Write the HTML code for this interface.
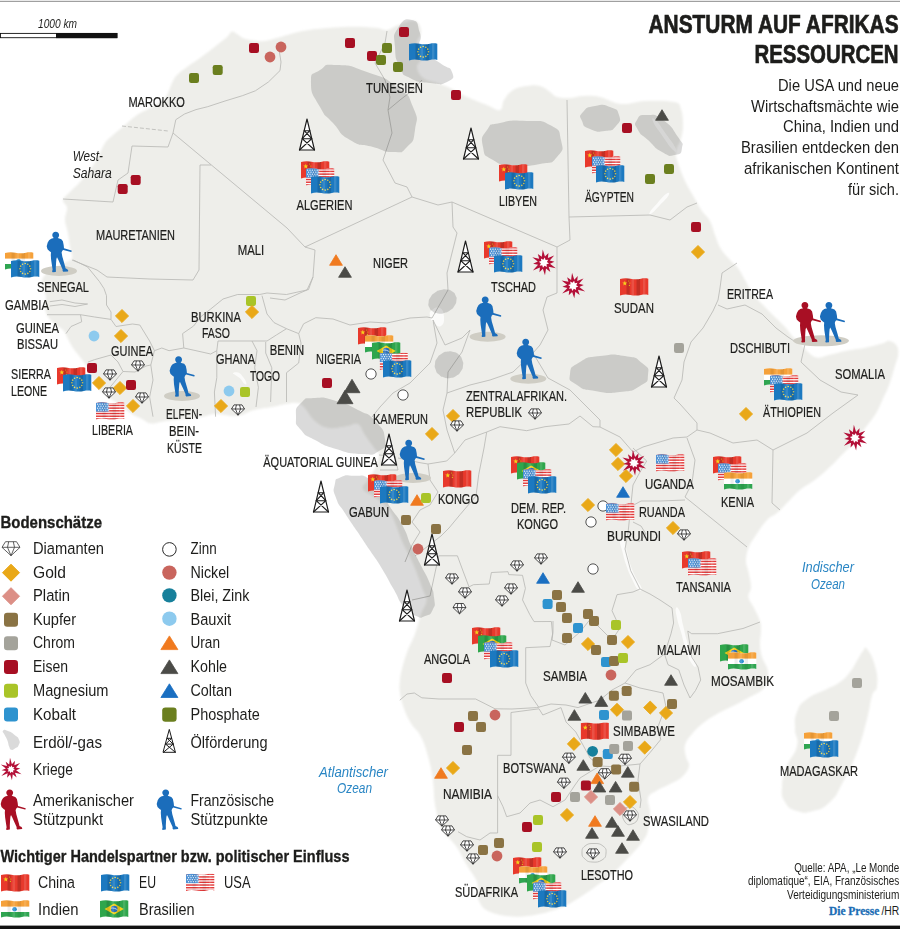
<!DOCTYPE html>
<html lang="de"><head><meta charset="utf-8"><title>Ansturm auf Afrikas Ressourcen</title>
<style>
html,body{margin:0;padding:0;background:#fff;}
body{width:900px;height:929px;overflow:hidden;}
svg{display:block;}
text{font-family:"Liberation Sans",sans-serif;fill:#1d1d1b;}
.c{font-size:15px;stroke:#1d1d1b;stroke-width:0.22px;}
.ci{font-size:15px;font-style:italic;}
.sc{font-size:12.2px;font-style:italic;}
.oc{font-size:15px;font-style:italic;fill:#2a86c4;}
.lg{font-size:16.3px;}
.h{font-size:17px;font-weight:bold;stroke:#1d1d1b;stroke-width:0.35px;}
.t{font-size:25.6px;font-weight:bold;stroke:#1d1d1b;stroke-width:0.7px;}
.p{font-size:17px;}
.q{font-size:13px;}
</style></head><body>
<svg width="900" height="929" viewBox="0 0 900 929">
<defs>
<filter id="soft" x="-5%" y="-5%" width="110%" height="110%"><feGaussianBlur stdDeviation="0.9"/></filter>


<clipPath id="fw"><path d="M0 1.1C3.5 0.1 7 0.1 10.5 0.8C14 1.5 17.5 1.5 21 0.7C23.5 0.2 26 0.2 28.3 0.7L28.3 16.9C26 16.4 23.5 16.4 21 17C17.5 17.8 14 17.8 10.5 17.1C7 16.4 3.5 16.4 0 17.5Z"/></clipPath>
<g id="gem" fill="#fff" stroke="#2b2b2b" stroke-width="0.85" stroke-linejoin="round" transform="translate(0 1)"><path d="M-4 -5.1H4L6.5 -1L0 5.2L-6.5 -1Z"/><path d="M-6.5 -1H6.5M-1.6 -5.1L-2.5 -1L0 5.2L2.5 -1L1.6 -5.1" fill="none"/></g>
<g id="gemL" fill="#fff" stroke="#444" stroke-width="0.85" stroke-linejoin="round"><path d="M-5.5 -7H5.5L9 -1.4L0 7L-9 -1.4Z"/><path d="M-9 -1.4H9M-2.3 -7L-3.5 -1.4L0 7L3.5 -1.4L2.3 -7" fill="none"/></g>
<g id="oil" stroke="#1b1b1b" stroke-width="1.15" stroke-linejoin="round" stroke-linecap="round"><path d="M0 -31L7.5 0H-7.5Z" fill="#fff"/><path d="M-7.5 0L4.8 -11.3M7.5 0L-4.8 -11.3M-4.8 -11.3H4.8M-4.8 -11.3L2.8 -19.3M4.8 -11.3L-2.8 -19.3M-2.8 -19.3H2.8" fill="none"/></g>
<g id="oilL" stroke="#1b1b1b" stroke-width="1" stroke-linejoin="round" stroke-linecap="round"><path d="M0 -22.5L6 0H-6Z" fill="#fff"/><path d="M-6 0L3.8 -8.2M6 0L-3.8 -8.2M-3.8 -8.2H3.8M-3.8 -8.2L2.2 -14M3.8 -8.2L-2.2 -14M-2.2 -14H2.2" fill="none"/></g>
<g id="war"><path d="M-1.15 -13.15L1.08 -6.11L4.57 -9.81L3.99 -4.75L10.27 -7.19L5.83 -2.12L10.52 -0.92L6.11 1.08L11.96 5.58L4.75 3.99L6.44 9.19L2.12 5.83L1.09 12.49L-1.08 6.11L-4.46 9.57L-3.99 4.75L-11.03 7.72L-5.83 2.12L-10.78 0.94L-6.11 -1.08L-11.60 -5.41L-4.75 -3.99L-6.06 -8.65L-2.12 -5.83Z" fill="#b30f37"/><path d="M0.90 -5.12L1.67 -2.61L4.26 -2.98L3.03 -0.67L5.12 0.90L2.61 1.67L2.98 4.26L0.67 3.03L-0.90 5.12L-1.67 2.61L-4.26 2.98L-3.03 0.67L-5.12 -0.90L-2.61 -1.67L-2.98 -4.26L-0.67 -3.03Z" fill="#fff"/></g>
<g id="warL"><path d="M-1.01 -11.56L0.90 -5.12L4.02 -8.62L3.34 -3.98L9.03 -6.32L4.89 -1.78L9.24 -0.81L5.12 0.90L10.51 4.90L3.98 3.34L5.66 8.08L1.78 4.89L0.96 10.98L-0.90 5.12L-3.92 8.41L-3.34 3.98L-9.69 6.79L-4.89 1.78L-9.48 0.83L-5.12 -0.90L-10.20 -4.76L-3.98 -3.34L-5.32 -7.60L-1.78 -4.89Z" fill="#b30f37"/><path d="M0.71 -4.04L1.29 -2.02L3.36 -2.35L2.34 -0.52L4.04 0.71L2.02 1.29L2.35 3.36L0.52 2.34L-0.71 4.04L-1.29 2.02L-3.36 2.35L-2.34 0.52L-4.04 -0.71L-2.02 -1.29L-2.35 -3.36L-0.52 -2.34Z" fill="#fff"/></g>
<path id="solb" d="M10 -0.3C12.1 -0.3 13.4 1 13.4 2.9C13.4 4.3 12.8 5.4 12 5.9L12.8 6.3L15.6 7.2L17.2 9.3L18 13.2L18.3 16.3L25.9 18.5L26 19.6L25.3 19.9L17.6 17.9L16.6 18.8L15.9 20.6L16.6 24.6L18.3 30.5L19.3 34L19.8 36.3L21.9 37.4L22.6 38.7L22.3 39.4L17.6 39.8L16.9 39L16.9 37.4L14.6 32.2L12.6 27.8L11.3 25.2L10.7 27L10.4 30.6L10.1 36L10.2 38.6L10.1 39.9L7 40.2L6.4 39.5L6.9 37.6L6.2 33L5.4 27.6L5.1 23L5.3 20.2L3.6 19L1.8 17.2L1 14.2L2 10.6L3.4 8.2L5.4 6.8L8.2 6C7.3 5.4 6.6 4.3 6.6 2.9C6.6 1 7.9 -0.3 10 -0.3Z" fill="#1b6dbb"/>
<path id="solr" d="M10 -0.3C12.1 -0.3 13.4 1 13.4 2.9C13.4 4.3 12.8 5.4 12 5.9L12.8 6.3L15.6 7.2L17.2 9.3L18 13.2L18.3 16.3L25.9 18.5L26 19.6L25.3 19.9L17.6 17.9L16.6 18.8L15.9 20.6L16.6 24.6L18.3 30.5L19.3 34L19.8 36.3L21.9 37.4L22.6 38.7L22.3 39.4L17.6 39.8L16.9 39L16.9 37.4L14.6 32.2L12.6 27.8L11.3 25.2L10.7 27L10.4 30.6L10.1 36L10.2 38.6L10.1 39.9L7 40.2L6.4 39.5L6.9 37.6L6.2 33L5.4 27.6L5.1 23L5.3 20.2L3.6 19L1.8 17.2L1 14.2L2 10.6L3.4 8.2L5.4 6.8L8.2 6C7.3 5.4 6.6 4.3 6.6 2.9C6.6 1 7.9 -0.3 10 -0.3Z" fill="#a80f24"/>
<g id="fcn" clip-path="url(#fw)"><rect width="29" height="19" fill="#e8392c"/><path d="M0.00 -2.60L0.62 -0.85L2.47 -0.80L1.00 0.32L1.53 2.10L0.00 1.05L-1.53 2.10L-1.00 0.32L-2.47 -0.80L-0.62 -0.85Z" transform="translate(4.8 5.4)" fill="#f6d21c"/><circle cx="8.6" cy="3" r="0.6" fill="#f6d21c"/><circle cx="9.8" cy="5" r="0.6" fill="#f6d21c"/><circle cx="9.4" cy="7.4" r="0.6" fill="#f6d21c"/><path d="M6.5 0h3.2v18h-3.2z" fill="#000" opacity="0.16"/><path d="M16.5 0h3.6v18h-3.6z" fill="#000" opacity="0.16"/><path d="M11.5 0h2.6v18h-2.6z" fill="#fff" opacity="0.12"/><path d="M23 0h2.4v18h-2.4z" fill="#fff" opacity="0.12"/></g>
<g id="feu" clip-path="url(#fw)"><rect width="29" height="19" fill="#1c79c0"/><circle cx="19.50" cy="8.80" r="0.8" fill="#f2dc5a"/><circle cx="18.79" cy="11.45" r="0.8" fill="#f2dc5a"/><circle cx="16.85" cy="13.39" r="0.8" fill="#f2dc5a"/><circle cx="14.20" cy="14.10" r="0.8" fill="#f2dc5a"/><circle cx="11.55" cy="13.39" r="0.8" fill="#f2dc5a"/><circle cx="9.61" cy="11.45" r="0.8" fill="#f2dc5a"/><circle cx="8.90" cy="8.80" r="0.8" fill="#f2dc5a"/><circle cx="9.61" cy="6.15" r="0.8" fill="#f2dc5a"/><circle cx="11.55" cy="4.21" r="0.8" fill="#f2dc5a"/><circle cx="14.20" cy="3.50" r="0.8" fill="#f2dc5a"/><circle cx="16.85" cy="4.21" r="0.8" fill="#f2dc5a"/><circle cx="18.79" cy="6.15" r="0.8" fill="#f2dc5a"/><path d="M6.5 0h3.2v18h-3.2z" fill="#000" opacity="0.13"/><path d="M16.5 0h3.6v18h-3.6z" fill="#000" opacity="0.13"/><path d="M11.5 0h2.6v18h-2.6z" fill="#fff" opacity="0.12"/><path d="M23 0h2.4v18h-2.4z" fill="#fff" opacity="0.12"/></g>
<g id="fus" clip-path="url(#fw)"><rect width="29" height="19" fill="#fff"/><rect x="0" y="0.00" width="29" height="1.45" fill="#e23a3a"/><rect x="0" y="2.70" width="29" height="1.45" fill="#e23a3a"/><rect x="0" y="5.40" width="29" height="1.45" fill="#e23a3a"/><rect x="0" y="8.10" width="29" height="1.45" fill="#e23a3a"/><rect x="0" y="10.80" width="29" height="1.45" fill="#e23a3a"/><rect x="0" y="13.50" width="29" height="1.45" fill="#e23a3a"/><rect x="0" y="16.20" width="29" height="1.45" fill="#e23a3a"/><rect x="0" y="0" width="12.5" height="9.6" fill="#4f93d6"/><circle cx="1.6" cy="2.2" r="0.62" fill="#fff"/><circle cx="4.0" cy="2.2" r="0.62" fill="#fff"/><circle cx="6.4" cy="2.2" r="0.62" fill="#fff"/><circle cx="8.8" cy="2.2" r="0.62" fill="#fff"/><circle cx="11.2" cy="2.2" r="0.62" fill="#fff"/><circle cx="2.6" cy="4.2" r="0.62" fill="#fff"/><circle cx="5.0" cy="4.2" r="0.62" fill="#fff"/><circle cx="7.4" cy="4.2" r="0.62" fill="#fff"/><circle cx="9.8" cy="4.2" r="0.62" fill="#fff"/><circle cx="12.2" cy="4.2" r="0.62" fill="#fff"/><circle cx="1.6" cy="6.2" r="0.62" fill="#fff"/><circle cx="4.0" cy="6.2" r="0.62" fill="#fff"/><circle cx="6.4" cy="6.2" r="0.62" fill="#fff"/><circle cx="8.8" cy="6.2" r="0.62" fill="#fff"/><circle cx="11.2" cy="6.2" r="0.62" fill="#fff"/><circle cx="2.6" cy="8.2" r="0.62" fill="#fff"/><circle cx="5.0" cy="8.2" r="0.62" fill="#fff"/><circle cx="7.4" cy="8.2" r="0.62" fill="#fff"/><circle cx="9.8" cy="8.2" r="0.62" fill="#fff"/><circle cx="12.2" cy="8.2" r="0.62" fill="#fff"/><path d="M6.5 0h3.2v18h-3.2z" fill="#000" opacity="0.06"/><path d="M16.5 0h3.6v18h-3.6z" fill="#000" opacity="0.06"/><path d="M11.5 0h2.6v18h-2.6z" fill="#fff" opacity="0.12"/><path d="M23 0h2.4v18h-2.4z" fill="#fff" opacity="0.12"/></g>
<g id="fin" clip-path="url(#fw)"><rect width="29" height="19" fill="#fff"/><rect width="29" height="6.6" fill="#f5a13a"/><rect y="12" width="29" height="7" fill="#2fa551"/><circle cx="13.6" cy="9.2" r="2.3" fill="#2e8fd0"/><path d="M6.5 0h3.2v18h-3.2z" fill="#000" opacity="0.07"/><path d="M16.5 0h3.6v18h-3.6z" fill="#000" opacity="0.07"/><path d="M11.5 0h2.6v18h-2.6z" fill="#fff" opacity="0.12"/><path d="M23 0h2.4v18h-2.4z" fill="#fff" opacity="0.12"/></g>
<g id="fbr" clip-path="url(#fw)"><rect width="29" height="19" fill="#2fa64c"/><path d="M14.2 3.4L23.8 9L14.2 14.6L4.6 9Z" fill="#f6d31d"/><circle cx="14.2" cy="9" r="3.3" fill="#2a6fb7"/><path d="M10.8 8.2C13 7.6 15.8 8.4 17.7 10" stroke="#fff" stroke-width="0.7" fill="none"/><path d="M6.5 0h3.2v18h-3.2z" fill="#000" opacity="0.13"/><path d="M16.5 0h3.6v18h-3.6z" fill="#000" opacity="0.13"/><path d="M11.5 0h2.6v18h-2.6z" fill="#fff" opacity="0.12"/><path d="M23 0h2.4v18h-2.4z" fill="#fff" opacity="0.12"/></g>

</defs>
<rect width="900" height="929" fill="#fff"/>
<rect x="0" y="0.8" width="900" height="1.1" fill="#969696"/>
<rect x="0" y="925.6" width="900" height="3.4" fill="#111"/>
<g filter="url(#soft)">
<path d="M232.0 31.5 C234.0 30.9 234.6 32.6 237.0 34.0 C239.4 35.4 240.6 37.2 244.0 38.5 C247.4 39.8 249.9 40.0 254.0 40.5 C258.1 41.0 259.6 41.5 264.4 41.0 C269.2 40.5 272.0 39.3 277.8 37.8 C283.6 36.3 287.1 34.9 293.3 33.3 C299.5 31.7 301.4 31.1 308.9 30.0 C316.4 28.9 322.1 28.5 331.0 27.8 C339.9 27.1 344.4 26.7 353.3 26.7 C362.2 26.7 368.9 27.1 375.6 27.8 C382.3 28.5 382.7 30.4 387.0 30.0 C391.3 29.6 392.4 27.4 397.0 25.6 C401.6 23.8 405.8 21.5 410.0 21.0 C414.2 20.5 415.8 20.6 418.0 23.0 C420.2 25.4 421.2 29.0 421.0 33.0 C420.8 37.0 416.8 38.2 417.0 43.0 C417.2 47.8 422.0 52.2 422.0 57.0 C422.0 61.8 416.8 62.8 417.0 67.0 C417.2 71.2 419.0 74.8 423.0 78.0 C427.0 81.2 431.6 81.0 437.0 83.0 C442.4 85.0 444.0 85.2 450.0 88.0 C456.0 90.8 459.6 93.6 467.0 97.0 C474.4 100.4 480.4 102.4 487.0 105.0 C493.6 107.6 496.6 111.0 500.0 110.0 C503.4 109.0 501.4 104.0 504.0 100.0 C506.6 96.0 508.4 92.8 513.0 90.0 C517.6 87.2 521.6 86.8 527.0 86.0 C532.4 85.2 535.4 84.8 540.0 86.0 C544.6 87.2 546.6 89.8 550.0 92.0 C553.4 94.2 553.0 95.8 557.0 97.0 C561.0 98.2 564.8 98.2 570.0 98.0 C575.2 97.8 577.0 96.2 583.0 96.0 C589.0 95.8 592.4 95.4 600.0 97.0 C607.6 98.6 612.0 103.2 621.0 104.0 C630.0 104.8 634.4 101.4 645.0 101.0 C655.6 100.6 666.8 100.4 674.0 102.0 C681.2 103.6 679.2 104.4 681.0 109.0 C682.8 113.6 683.0 119.0 683.0 125.0 C683.0 131.0 682.4 133.6 681.0 139.0 C679.6 144.4 676.4 146.6 676.0 152.0 C675.6 157.4 677.0 159.8 679.0 166.0 C681.0 172.2 682.8 176.4 686.0 183.0 C689.2 189.6 691.8 193.4 695.0 199.0 C698.2 204.6 699.0 206.6 702.0 211.0 C705.0 215.4 707.4 216.2 710.0 221.0 C712.6 225.8 712.8 229.4 715.0 235.0 C717.2 240.6 717.8 243.8 721.0 249.0 C724.2 254.2 727.6 257.2 731.0 261.0 C734.4 264.8 735.2 264.2 738.0 268.0 C740.8 271.8 742.0 274.8 745.0 280.0 C748.0 285.2 749.0 288.6 753.0 294.0 C757.0 299.4 760.4 302.2 765.0 307.0 C769.6 311.8 771.8 313.8 776.0 318.0 C780.2 322.2 782.6 324.2 786.0 328.0 C789.4 331.8 790.2 334.2 793.0 337.0 C795.8 339.8 797.4 339.4 800.0 342.0 C802.6 344.6 802.7 346.9 806.0 350.0 C809.3 353.1 811.8 356.5 816.4 357.5 C821.0 358.5 822.8 356.5 828.9 355.1 C835.0 353.7 839.6 352.1 846.7 350.7 C853.8 349.3 857.3 349.4 864.4 348.0 C871.5 346.6 877.2 345.0 882.2 343.6 C887.2 342.2 886.5 340.6 889.3 340.9 C892.1 341.2 894.6 342.6 896.4 345.3 C898.2 348.0 898.5 349.9 898.2 354.2 C897.9 358.5 896.5 360.7 894.7 366.7 C892.9 372.7 891.8 377.7 889.3 384.4 C886.8 391.1 885.0 394.3 882.2 400.4 C879.4 406.5 878.7 409.0 875.1 414.7 C871.5 420.4 868.7 423.2 864.4 428.9 C860.1 434.6 858.1 438.1 853.8 443.1 C849.5 448.1 848.1 448.8 843.1 453.8 C838.1 458.8 834.6 462.8 828.9 468.0 C823.2 473.2 820.5 475.6 814.7 480.0 C808.9 484.4 805.5 485.4 800.0 490.0 C794.5 494.6 791.6 498.4 787.0 503.0 C782.4 507.6 781.0 509.6 777.0 513.0 C773.0 516.4 771.2 515.6 767.0 520.0 C762.8 524.4 759.7 529.4 756.0 535.0 C752.3 540.6 750.5 542.8 748.5 548.0 C746.5 553.2 746.0 556.2 746.0 561.0 C746.0 565.8 747.5 566.8 748.5 572.0 C749.5 577.2 751.0 582.0 751.0 587.0 C751.0 592.0 747.9 592.8 748.5 597.0 C749.1 601.2 751.7 603.2 754.0 608.0 C756.3 612.8 758.6 616.4 760.0 621.0 C761.4 625.6 761.0 626.4 761.0 631.0 C761.0 635.6 759.8 638.8 760.0 644.0 C760.2 649.2 760.4 651.4 762.0 657.0 C763.6 662.6 767.6 665.8 768.0 672.0 C768.4 678.2 768.0 682.8 764.0 688.0 C760.0 693.2 754.2 694.4 748.0 698.0 C741.8 701.6 739.2 702.8 733.0 706.0 C726.8 709.2 723.2 710.4 717.0 714.0 C710.8 717.6 707.0 720.0 702.0 724.0 C697.0 728.0 695.4 729.8 692.0 734.0 C688.6 738.2 686.2 740.4 685.0 745.0 C683.8 749.6 685.2 752.8 686.0 757.0 C686.8 761.2 689.8 762.0 689.0 766.0 C688.2 770.0 685.8 773.4 682.0 777.0 C678.2 780.6 675.2 781.2 670.0 784.0 C664.8 786.8 660.4 788.2 656.0 791.0 C651.6 793.8 649.2 793.8 648.0 798.0 C646.8 802.2 650.0 805.6 650.0 812.0 C650.0 818.4 649.4 824.2 648.0 830.0 C646.6 835.8 646.4 836.0 643.0 841.0 C639.6 846.0 637.0 848.6 631.0 855.0 C625.0 861.4 620.2 866.6 613.0 873.0 C605.8 879.4 602.8 881.4 595.0 887.0 C587.2 892.6 581.0 896.8 574.0 901.0 C567.0 905.2 567.4 905.3 560.0 908.0 C552.6 910.7 546.4 912.8 537.0 914.5 C527.6 916.2 522.6 917.1 513.0 916.5 C503.4 915.9 495.8 914.6 489.0 911.5 C482.2 908.4 481.2 905.3 479.0 901.0 C476.8 896.7 478.6 894.2 478.0 890.0 C477.4 885.8 478.5 885.1 476.2 880.0 C473.9 874.9 470.4 871.3 466.5 864.7 C462.6 858.1 461.1 853.4 456.8 847.2 C452.5 841.0 448.9 838.5 445.2 833.7 C441.5 828.9 440.2 827.3 438.5 823.0 C436.8 818.7 437.3 816.5 436.5 812.0 C435.7 807.5 435.3 807.6 434.5 800.7 C433.7 793.8 434.1 787.2 432.6 777.5 C431.1 767.8 429.3 760.5 426.8 752.0 C424.3 743.5 423.1 740.6 420.0 735.0 C416.9 729.4 414.6 729.0 411.5 724.0 C408.4 719.0 406.8 716.2 404.5 710.0 C402.2 703.8 400.9 699.0 400.0 693.0 C399.1 687.0 399.5 685.2 400.0 680.0 C400.5 674.8 401.0 672.8 402.5 667.0 C404.0 661.2 405.0 657.6 407.5 651.0 C410.0 644.4 412.3 641.4 415.0 634.0 C417.7 626.6 418.7 620.6 421.0 614.0 C423.3 607.4 426.2 605.6 426.6 600.8 C427.0 596.0 425.1 596.0 423.0 590.0 C420.9 584.0 418.8 577.7 416.0 570.7 C413.2 563.7 411.8 560.9 409.0 555.0 C406.2 549.1 404.6 547.0 402.0 541.0 C399.4 535.0 398.6 531.2 396.0 525.0 C393.4 518.8 393.0 515.4 389.0 510.0 C385.0 504.6 381.2 502.2 376.0 498.0 C370.8 493.8 364.6 492.6 363.0 489.0 C361.4 485.4 365.6 484.2 368.0 480.0 C370.4 475.8 372.8 473.0 375.0 468.0 C377.2 463.0 379.0 458.8 379.0 455.0 C379.0 451.2 377.8 453.0 375.0 449.0 C372.2 445.0 368.4 440.0 365.0 435.0 C361.6 430.0 361.6 425.8 358.0 424.0 C354.4 422.2 352.8 425.2 347.0 426.0 C341.2 426.8 335.4 429.0 329.0 428.0 C322.6 427.0 320.0 425.2 315.0 421.0 C310.0 416.8 307.6 410.6 304.0 407.0 C300.4 403.4 300.6 403.6 297.0 403.0 C293.4 402.4 291.0 403.2 286.0 404.0 C281.0 404.8 278.4 405.8 272.0 407.0 C265.6 408.2 261.0 408.2 254.0 410.0 C247.0 411.8 244.8 415.2 237.0 416.0 C229.2 416.8 222.2 413.8 215.0 414.0 C207.8 414.2 210.8 415.6 201.0 417.0 C191.2 418.4 175.9 419.7 166.0 421.0 C156.1 422.3 156.3 423.9 151.5 423.5 C146.7 423.1 145.9 420.9 142.0 419.0 C138.1 417.1 136.4 416.8 132.0 414.0 C127.6 411.2 124.8 408.4 120.0 405.0 C115.2 401.6 112.4 400.4 108.0 397.0 C103.6 393.6 101.2 391.8 98.0 388.0 C94.8 384.2 94.2 382.2 92.0 378.0 C89.8 373.8 89.4 371.2 87.0 367.0 C84.6 362.8 82.8 360.8 80.0 357.0 C77.2 353.2 75.5 351.8 73.0 348.0 C70.5 344.2 69.3 341.4 67.5 338.0 C65.7 334.6 65.7 333.2 64.0 331.0 C62.3 328.8 61.4 328.9 59.0 327.0 C56.6 325.1 54.5 324.1 52.0 321.5 C49.5 318.9 47.9 317.3 46.5 314.0 C45.1 310.7 45.1 308.2 45.0 305.0 C44.9 301.8 46.2 301.0 46.0 298.0 C45.8 295.0 44.8 293.2 44.0 290.0 C43.2 286.8 41.8 285.0 42.0 282.0 C42.2 279.0 42.4 277.8 45.0 275.0 C47.6 272.2 50.8 270.6 55.0 268.0 C59.2 265.4 62.6 264.0 66.0 262.0 C69.4 260.0 71.2 261.0 72.0 258.0 C72.8 255.0 70.8 252.0 70.0 247.0 C69.2 242.0 69.0 238.4 68.0 233.0 C67.0 227.6 65.2 225.0 65.0 220.0 C64.8 215.0 67.4 212.0 67.0 208.0 C66.6 204.0 62.4 203.2 63.0 200.0 C63.6 196.8 66.6 195.6 70.0 192.0 C73.4 188.4 76.0 186.4 80.0 182.0 C84.0 177.6 86.4 175.0 90.0 170.0 C93.6 165.0 95.0 162.4 98.0 157.0 C101.0 151.6 102.0 147.4 105.0 143.0 C108.0 138.6 109.0 138.6 113.0 135.0 C117.0 131.4 120.2 129.0 125.0 125.0 C129.8 121.0 132.0 118.4 137.0 115.0 C142.0 111.6 144.8 111.0 150.0 108.0 C155.2 105.0 159.4 103.0 163.0 100.0 C166.6 97.0 166.2 96.4 168.0 93.0 C169.8 89.6 170.2 86.6 172.0 83.0 C173.8 79.4 174.0 78.2 177.0 75.0 C180.0 71.8 182.4 70.4 187.0 67.0 C191.6 63.6 194.0 62.4 200.0 58.0 C206.0 53.6 211.6 49.2 217.0 45.0 C222.4 40.8 224.0 39.7 227.0 37.0 C230.0 34.3 230.0 32.1 232.0 31.5Z" fill="#eeeeea"/>
<path d="M867.0 649.0 C870.2 653.0 872.3 656.1 875.0 666.0 C877.7 675.9 877.8 678.0 877.0 686.0 C876.2 694.0 874.7 687.2 872.0 696.0 C869.3 704.8 871.0 704.1 867.0 719.0 C863.0 733.9 863.4 735.2 857.0 752.0 C850.6 768.8 850.2 768.7 843.0 782.0 C835.8 795.3 838.0 794.3 830.0 802.0 C822.0 809.7 821.8 808.6 813.0 811.0 C804.2 813.4 804.5 813.4 797.0 811.0 C789.5 808.6 789.0 808.7 785.0 802.0 C781.0 795.3 781.5 795.6 782.0 786.0 C782.5 776.4 783.0 776.7 787.0 766.0 C791.0 755.3 794.9 755.9 797.0 746.0 C799.1 736.1 795.0 738.1 795.0 729.0 C795.0 719.9 793.8 720.0 797.0 712.0 C800.2 704.0 799.0 705.1 807.0 699.0 C815.0 692.9 818.2 693.5 827.0 689.0 C835.8 684.5 833.9 686.5 840.0 682.0 C846.1 677.5 845.2 678.1 850.0 672.0 C854.8 665.9 854.5 664.6 858.0 659.0 C861.5 653.4 860.6 653.7 863.0 651.0 C865.4 648.3 863.8 645.0 867.0 649.0Z" fill="#eeeeea"/>
</g>
<path d="M676.0 608.0 C676.8 606.4 678.1 607.5 680.0 612.0 C681.9 616.5 681.1 617.3 683.0 625.0 C684.9 632.7 684.6 633.0 687.0 641.0 C689.4 649.0 689.6 648.6 692.0 655.0 C694.4 661.4 696.0 662.6 696.0 665.0 C696.0 667.4 694.7 668.0 692.0 664.0 C689.3 660.0 688.9 658.5 686.0 650.0 C683.1 641.5 683.4 640.5 681.0 632.0 C678.6 623.5 678.3 624.4 677.0 618.0 C675.7 611.6 675.2 609.6 676.0 608.0Z" fill="#fbfbfa"/>
<path d="M620.0 541.0 C620.4 538.1 622.1 538.1 624.0 541.0 C625.9 543.9 625.3 545.6 627.0 552.0 C628.7 558.4 628.1 558.1 630.5 565.0 C632.9 571.9 633.1 571.9 636.0 578.0 C638.9 584.1 641.0 584.9 641.5 588.0 C642.0 591.1 640.5 591.9 638.0 589.5 C635.5 587.1 635.1 585.3 632.0 579.0 C628.9 572.7 629.0 573.2 626.5 566.0 C624.0 558.8 624.2 558.7 622.5 552.0 C620.8 545.3 619.6 543.9 620.0 541.0Z" fill="#fbfbfa"/>
<path d="M653.0 121.5 C651.3 117.4 652.5 117.2 656.0 120.5 C659.5 123.8 660.8 126.7 666.0 134.0 C671.2 141.3 673.6 143.7 675.5 148.0 C677.4 152.3 676.5 153.2 673.0 150.0 C669.5 146.8 667.8 143.6 662.5 136.0 C657.2 128.4 654.7 125.6 653.0 121.5Z" fill="#fbfbfa"/>
<path d="M666.0 194.0 C668.9 192.0 670.1 192.6 668.5 195.5 C666.9 198.4 664.5 200.2 660.0 205.0 C655.5 209.8 654.2 211.6 651.5 213.5 C648.8 215.4 648.4 214.8 650.0 212.0 C651.6 209.2 653.2 207.8 657.5 203.0 C661.8 198.2 663.1 196.0 666.0 194.0Z" fill="#fbfbfa"/>
<path d="M233.0 373.2 C233.5 372.5 235.3 371.6 238.0 372.6 C240.7 373.6 240.8 374.2 243.0 377.0 C245.2 379.8 246.0 381.2 246.3 383.0 C246.6 384.8 246.0 385.1 244.3 383.8 C242.6 382.5 242.2 380.5 240.0 378.3 C237.8 376.1 237.9 376.8 236.0 375.4 C234.1 374.0 232.5 373.9 233.0 373.2Z" fill="#fbfbfa"/>
<path d="M432.0 310.0 C434.7 307.9 436.8 306.1 440.0 308.0 C443.2 309.9 443.7 312.2 444.0 317.0 C444.3 321.8 443.7 324.4 441.0 326.0 C438.3 327.6 436.9 325.7 434.0 323.0 C431.1 320.3 430.5 319.5 430.0 316.0 C429.5 312.5 429.3 312.1 432.0 310.0Z" fill="#fbfbfa"/>
<g fill="none" stroke="#b9b9b6" stroke-width="0.85" stroke-linejoin="round">
<polyline points="278.0,43.0 281.0,62.0 280.0,70.6 268.4,82.0 255.4,90.8 242.4,95.7 225.0,101.0 207.7,106.7 196.0,109.6 184.5,114.0 175.8,119.7 173.0,133.0"/>
<polyline points="173.0,133.0 168.0,147.0 132.0,146.0 128.0,173.0 118.0,180.0 113.0,202.0 63.0,199.0"/>
<polyline points="173.0,133.0 287.0,228.0 305.0,247.0"/>
<polyline points="211.0,165.0 200.0,165.0 199.0,270.0 193.0,280.0 150.0,279.0 107.0,277.0 97.0,270.0 72.0,260.0"/>
<polyline points="305.0,247.0 412.0,197.0"/>
<polyline points="412.0,197.0 407.0,187.0 395.0,183.0 383.0,160.0 392.0,133.0 388.0,110.0 390.0,97.0 385.0,80.0 375.0,63.0 385.0,43.0 387.0,31.0"/>
<polyline points="388.0,110.0 400.0,100.0 413.0,90.0 422.0,80.0"/>
<polyline points="412.0,197.0 438.0,205.0 452.0,202.0 557.0,247.0"/>
<polyline points="557.0,247.0 570.0,240.0 569.0,217.0 567.0,100.0"/>
<polyline points="569.0,217.0 650.0,215.0 670.0,220.0 687.0,207.0 697.0,203.0"/>
<polyline points="452.0,202.0 453.0,227.0 457.0,233.0 447.0,273.0 448.0,290.0 432.0,318.0"/>
<polyline points="305.0,247.0 315.0,250.0 313.0,277.0 307.0,290.0 300.0,293.0 285.0,300.0 270.0,298.0"/>
<polyline points="557.0,247.0 557.0,293.0 547.0,297.0 543.0,310.0 548.0,330.0 540.0,345.0 533.0,353.0"/>
<polyline points="737.0,263.0 722.0,273.0 720.0,288.0 718.0,300.0 713.0,311.0 703.0,328.0 691.0,342.0 684.0,362.0 682.0,380.0 674.0,398.0 680.0,404.0 697.0,423.0 697.0,430.0"/>
<polyline points="718.0,305.0 727.0,309.0 745.0,305.0 762.0,314.0 776.0,328.0 788.0,337.0 797.0,343.0"/>
<polyline points="805.0,344.0 801.0,362.0 820.0,380.0 841.0,392.0 858.0,395.0 833.0,413.0 807.0,433.0 787.0,443.0 773.0,450.0"/>
<polyline points="773.0,450.0 757.0,440.0 733.0,443.0 710.0,433.0 697.0,430.0 687.0,437.0"/>
<polyline points="773.0,450.0 772.0,503.0 780.0,510.0"/>
<polyline points="687.0,438.0 695.0,460.0 692.0,483.0 685.0,497.0 747.0,547.0"/>
<polyline points="687.0,437.0 673.0,438.0 643.0,447.0 633.0,452.0 620.0,437.0 600.0,427.0"/>
<polyline points="73.4,260.0 87.6,267.0 99.4,281.5 104.0,288.6 106.5,295.7 106.5,305.0 111.0,312.0 111.0,319.4"/>
<polyline points="47.0,314.7 80.5,314.7 94.7,317.0 111.0,319.4 116.0,326.5 132.5,324.0 139.8,325.0 149.6,341.0 154.4,350.7"/>
<polyline points="49.7,301.7 62.0,300.0 75.0,303.0 87.6,304.0 75.0,306.5 62.0,304.5 49.7,306.0"/>
<polyline points="80.5,314.7 81.7,321.8 71.0,326.5 66.0,333.6"/>
<polyline points="88.0,362.0 94.7,359.6 111.0,355.0 118.0,362.0 123.0,371.5 113.6,383.0 106.0,392.0"/>
<polyline points="123.0,371.5 135.0,372.0 146.0,366.0 150.8,365.0"/>
<polyline points="154.4,350.7 150.8,365.0 153.0,380.0 149.6,397.0 153.0,416.7"/>
<polyline points="154.4,350.7 161.8,348.0 169.0,350.7 183.8,348.0 182.6,333.6 193.6,326.0 201.0,316.5 210.7,309.0 223.0,299.0 237.6,294.5 259.6,294.5 267.0,293.0 286.5,294.5 308.5,289.6 313.0,277.0"/>
<polyline points="183.8,348.0 196.0,350.7 210.7,354.0 216.8,350.7 218.0,341.0 252.0,341.0 267.0,341.0 276.7,334.8 286.5,328.7 274.0,322.6 267.0,314.0 262.0,295.7"/>
<polyline points="216.8,350.7 216.8,377.6 214.4,392.0 215.6,416.7"/>
<polyline points="252.0,341.0 257.0,350.7 254.7,367.8 258.4,387.4 256.0,407.0"/>
<polyline points="265.7,342.0 265.7,353.0 271.8,367.8 270.6,402.0"/>
<polyline points="286.5,328.7 298.7,333.6 301.0,343.0 298.7,363.0 286.5,372.7 286.5,402.0"/>
<polyline points="298.7,333.6 303.6,323.8 315.8,317.7 333.0,319.0 350.0,325.0 370.0,322.0 387.0,323.0 410.0,318.0 427.0,317.0 432.0,318.0"/>
<polyline points="433.0,320.0 437.0,343.0 430.0,363.0 410.0,383.0 393.0,393.0 380.0,407.0 372.0,417.0"/>
<polyline points="433.0,320.0 445.0,345.0 462.0,338.0 470.0,330.0 462.0,352.0 448.0,372.0 447.0,393.0"/>
<polyline points="447.0,393.0 470.0,385.0 490.0,380.0 513.0,372.0 533.0,353.0 548.0,378.0 570.0,390.0 600.0,420.0 600.0,427.0"/>
<polyline points="447.0,393.0 443.0,410.0 447.0,430.0 454.7,453.0"/>
<polyline points="379.0,455.0 395.0,456.0 398.0,470.0 380.0,470.0"/>
<polyline points="398.0,458.0 420.0,462.7 428.0,464.0 446.7,461.0 454.7,453.0 465.0,440.0 486.7,432.0"/>
<polyline points="486.7,432.0 500.0,426.7 526.7,430.7 545.0,426.7 569.0,424.0 580.0,416.0 593.0,426.7 600.0,427.0"/>
<polyline points="486.7,432.0 484.0,448.0 478.7,474.7 476.0,496.0 460.0,514.7 449.0,528.0 441.0,536.0 430.7,544.0 415.0,556.0"/>
<polyline points="428.0,464.0 430.0,480.0 438.0,492.0 430.0,505.0 420.0,510.0 412.0,522.0 420.0,532.0 412.0,545.0 405.0,562.0"/>
<polyline points="412.0,600.0 430.0,596.0 438.7,555.8 457.4,555.8 463.0,571.0 469.0,586.9 473.4,584.7 489.2,584.0 491.4,572.5 508.0,571.7 508.8,574.6 522.5,575.3 525.4,588.4 522.5,599.9 529.7,614.4 534.0,621.6 551.4,621.5 552.6,634.0 550.0,646.5 525.7,647.7 525.7,683.0 530.6,695.4 539.0,707.6"/>
<polyline points="553.0,621.0 553.0,632.0 552.0,640.0 565.0,645.0 580.0,632.0 590.7,618.7 600.0,628.0 612.0,640.0 620.0,628.0 612.0,610.7 617.0,594.7 633.0,592.0 640.0,589.0"/>
<polyline points="633.0,448.0 646.7,461.0 640.0,472.0 633.0,485.0 630.7,506.7 628.0,533.0 625.0,549.0 630.7,570.7 636.0,581.0 640.0,589.0"/>
<polyline points="630.7,506.7 641.0,501.0 660.0,501.0 685.0,500.0"/>
<polyline points="629.0,540.0 640.0,541.0 646.0,534.0 641.0,526.0 633.0,522.0"/>
<polyline points="640.0,589.0 650.0,594.0 660.0,600.0 672.0,608.0 673.6,623.0 671.0,633.7 664.5,654.0 668.0,664.7 678.8,669.9 684.0,685.0 690.0,698.0 695.5,690.5 700.7,680.0 698.0,667.0 691.7,657.0 687.8,631.0"/>
<polyline points="760.0,622.0 743.0,628.5 717.5,633.7 691.7,633.7 687.8,631.0"/>
<polyline points="664.5,654.0 650.0,664.7 636.0,670.0 625.0,683.0 612.0,690.0 600.0,700.0 578.0,707.6"/>
<polyline points="625.0,683.0 640.0,688.0 663.0,693.0 665.8,706.0 658.0,726.7 660.7,739.6 650.0,752.6 640.0,764.0 638.0,780.0 641.0,800.0 640.0,808.0"/>
<polyline points="399.8,700.2 407.0,694.0 414.4,693.0 421.8,697.8 439.0,699.0 475.6,699.0 483.0,702.7 495.0,708.8 512.0,709.0 536.7,707.6 551.0,704.0 566.0,705.0 578.0,707.6"/>
<polyline points="511.0,712.5 539.0,708.8 542.8,715.0 561.0,707.6 566.0,722.0 575.8,732.0 583.0,745.0 590.0,758.0 600.0,766.0 613.0,766.7 640.0,764.0"/>
<polyline points="511.0,712.5 511.0,755.3 497.6,755.3 497.6,833.0 490.0,833.0 480.0,840.0 466.7,836.7 458.0,831.7"/>
<polyline points="497.6,795.6 503.0,806.7 506.7,816.7 520.0,813.0 530.0,803.0 540.0,800.0 553.0,806.7 565.0,800.0 575.0,785.0 580.0,778.0 593.0,770.0 600.0,766.0"/>
<polyline points="122.0,126.0 168.0,131.0" stroke-dasharray="4 2"/>
<path d="M582.0 853.0 C582.0 849.5 581.8 848.5 585.0 846.0 C588.2 843.5 589.2 843.5 594.0 843.5 C598.8 843.5 599.8 843.5 603.0 846.0 C606.2 848.5 606.3 849.3 606.0 853.0 C605.7 856.7 605.7 857.6 602.0 860.0 C598.3 862.4 596.5 862.3 592.0 862.0 C587.5 861.7 587.7 861.4 585.0 859.0 C582.3 856.6 582.0 856.5 582.0 853.0Z"/>
<path d="M623.0 812.0 C624.1 808.0 625.5 807.5 629.0 807.0 C632.5 806.5 633.6 807.1 636.0 810.0 C638.4 812.9 639.1 814.3 638.0 818.0 C636.9 821.7 635.5 822.9 632.0 824.0 C628.5 825.1 627.4 825.2 625.0 822.0 C622.6 818.8 621.9 816.0 623.0 812.0Z"/>
</g>
<g fill="#000" fill-opacity="0.145">
<path d="M311.0 83.0 C311.0 70.7 311.3 76.0 320.0 70.0 C328.7 64.0 321.3 64.3 337.0 65.0 C352.7 65.7 347.0 64.7 367.0 72.0 C387.0 79.3 381.7 75.3 397.0 87.0 C412.3 98.7 407.0 92.7 413.0 107.0 C419.0 121.3 417.0 116.7 415.0 130.0 C413.0 143.3 414.3 139.7 407.0 147.0 C399.7 154.3 404.3 152.0 393.0 152.0 C381.7 152.0 387.3 151.0 373.0 147.0 C358.7 143.0 363.3 148.0 350.0 140.0 C336.7 132.0 343.0 134.0 333.0 123.0 C323.0 112.0 327.3 120.3 320.0 107.0 C312.7 93.7 311.0 95.3 311.0 83.0Z"/>
<path d="M412.0 20.0 C419.3 21.7 416.7 23.0 420.0 33.0 C423.3 43.0 415.3 40.0 422.0 50.0 C428.7 60.0 430.0 55.7 440.0 63.0 C450.0 70.3 449.7 65.7 452.0 72.0 C454.3 78.3 454.3 78.3 447.0 82.0 C439.7 85.7 442.3 84.3 430.0 83.0 C417.7 81.7 420.0 83.3 410.0 78.0 C400.0 72.7 405.0 77.3 400.0 67.0 C395.0 56.7 395.7 60.0 395.0 47.0 C394.3 34.0 392.3 37.0 398.0 28.0 C403.7 19.0 404.7 18.3 412.0 20.0Z"/>
<path d="M487.0 130.0 C492.7 122.0 486.7 126.0 500.0 123.0 C513.3 120.0 510.3 120.3 527.0 121.0 C543.7 121.7 538.7 118.7 550.0 125.0 C561.3 131.3 558.7 129.3 561.0 140.0 C563.3 150.7 564.0 149.0 557.0 157.0 C550.0 165.0 554.7 161.3 540.0 164.0 C525.3 166.7 528.7 166.3 513.0 165.0 C497.3 163.7 503.0 166.0 493.0 160.0 C483.0 154.0 485.0 157.0 483.0 147.0 C481.0 137.0 481.3 138.0 487.0 130.0Z"/>
<path d="M583.0 112.0 C587.3 107.0 586.0 107.7 595.0 106.0 C604.0 104.3 602.0 104.0 610.0 107.0 C618.0 110.0 617.0 108.7 619.0 115.0 C621.0 121.3 620.7 120.7 616.0 126.0 C611.3 131.3 613.7 130.0 605.0 131.0 C596.3 132.0 597.7 132.3 590.0 129.0 C582.3 125.7 584.3 126.7 582.0 121.0 C579.7 115.3 578.7 117.0 583.0 112.0Z"/>
<path d="M637.0 120.0 C640.0 115.0 638.3 115.0 647.0 115.0 C655.7 115.0 652.7 112.7 663.0 120.0 C673.3 127.3 671.7 127.7 678.0 137.0 C684.3 146.3 683.0 142.0 682.0 148.0 C681.0 154.0 681.7 153.7 675.0 155.0 C668.3 156.3 671.0 157.0 662.0 152.0 C653.0 147.0 656.0 147.3 648.0 140.0 C640.0 132.7 641.7 136.7 638.0 130.0 C634.3 123.3 634.0 125.0 637.0 120.0Z"/>
<path d="M455.6 295.4 C457.0 298.4 456.8 297.0 456.4 300.5 C456.0 304.0 456.6 302.5 454.5 305.8 C452.4 309.1 453.6 307.9 450.2 310.3 C446.8 312.7 448.3 311.9 444.3 313.0 C440.3 314.1 441.9 314.0 438.1 313.5 C434.3 313.0 435.7 313.5 432.8 311.5 C429.9 309.5 430.8 310.6 429.4 307.6 C428.0 304.6 428.2 306.0 428.6 302.5 C429.0 299.0 428.4 300.5 430.5 297.2 C432.6 293.9 431.4 295.1 434.8 292.7 C438.2 290.3 436.7 291.1 440.7 290.0 C444.7 288.9 443.1 289.0 446.9 289.5 C450.7 290.0 449.3 289.5 452.2 291.5 C455.1 293.5 454.2 292.4 455.6 295.4Z"/>
<path d="M462.3 359.9 C463.6 363.5 463.5 361.9 463.0 365.8 C462.5 369.7 463.0 368.2 460.8 371.5 C458.6 374.8 459.9 373.6 456.4 375.8 C452.9 378.0 454.5 377.4 450.4 378.0 C446.3 378.6 448.0 378.6 444.2 377.5 C440.4 376.4 441.7 377.2 438.9 374.6 C436.1 372.0 437.0 373.3 435.7 369.7 C434.4 366.1 434.5 367.7 435.0 363.8 C435.5 359.9 435.0 361.4 437.2 358.1 C439.4 354.8 438.1 356.0 441.6 353.8 C445.1 351.6 443.5 352.2 447.6 351.6 C451.7 351.0 450.0 351.0 453.8 352.1 C457.6 353.2 456.3 352.4 459.1 355.0 C461.9 357.6 461.0 356.3 462.3 359.9Z"/>
<path d="M570.0 374.0 C571.0 366.3 570.0 368.0 580.0 362.0 C590.0 356.0 585.0 358.0 600.0 356.0 C615.0 354.0 611.0 353.7 625.0 356.0 C639.0 358.3 634.3 356.7 642.0 363.0 C649.7 369.3 648.7 367.3 648.0 375.0 C647.3 382.7 649.3 380.3 640.0 386.0 C630.7 391.7 635.0 390.3 620.0 392.0 C605.0 393.7 609.3 393.3 595.0 391.0 C580.7 388.7 585.3 390.7 577.0 385.0 C568.7 379.3 569.0 381.7 570.0 374.0Z"/>
<path d="M296.0 417.0 C296.0 408.0 294.7 409.3 301.0 403.0 C307.3 396.7 303.3 398.7 315.0 398.0 C326.7 397.3 321.7 397.0 336.0 401.0 C350.3 405.0 345.0 403.3 358.0 410.0 C371.0 416.7 366.0 411.3 375.0 421.0 C384.0 430.7 383.7 429.0 385.0 439.0 C386.3 449.0 387.0 446.0 379.0 451.0 C371.0 456.0 375.3 454.7 361.0 454.0 C346.7 453.3 351.3 453.7 336.0 449.0 C320.7 444.3 326.7 446.3 315.0 440.0 C303.3 433.7 307.3 437.7 301.0 430.0 C294.7 422.3 296.0 426.0 296.0 417.0Z"/>
<path d="M334.7 484.8 C336.2 477.8 334.2 480.3 340.7 477.3 C347.2 474.3 344.7 475.3 354.2 475.8 C363.7 476.3 360.4 473.4 369.3 478.8 C378.2 484.2 374.0 482.5 381.0 492.0 C388.0 501.5 383.2 496.2 390.4 507.4 C397.6 518.6 395.5 512.4 402.5 525.5 C409.5 538.6 405.5 533.5 411.5 546.6 C417.5 559.7 414.6 552.7 420.6 564.7 C426.6 576.7 425.1 571.7 429.6 582.7 C434.1 593.7 433.1 588.7 434.1 597.8 C435.1 606.9 435.6 603.9 432.6 609.9 C429.6 615.9 430.6 613.9 425.1 615.9 C419.6 617.9 423.0 618.9 416.0 615.9 C409.0 612.9 411.5 615.9 404.0 606.9 C396.5 597.9 400.9 601.9 393.4 588.8 C385.9 575.7 389.4 580.8 381.4 567.7 C373.4 554.6 377.3 561.7 369.3 549.6 C361.3 537.5 365.3 543.6 357.3 531.5 C349.3 519.4 352.2 524.4 345.2 513.4 C338.2 502.4 339.7 507.9 336.2 498.4 C332.7 488.9 333.2 491.8 334.7 484.8Z"/>
<path d="M3.0 730.7 C4.1 729.4 4.1 729.6 8.0 731.0 C11.9 732.4 11.0 732.1 14.7 735.0 C18.4 737.9 17.7 736.4 19.0 739.7 C20.3 743.0 19.9 742.1 18.7 745.0 C17.5 747.9 17.8 746.7 15.3 748.3 C12.8 749.9 13.3 750.1 11.3 749.7 C9.3 749.3 10.6 750.1 9.3 747.0 C8.0 743.9 8.8 744.3 7.3 740.3 C5.8 736.3 6.1 738.2 4.7 735.0 C3.3 731.8 1.9 732.0 3.0 730.7Z"/>
</g>
<ellipse cx="59.0" cy="271.0" rx="18" ry="5" fill="#cfcdc4"/>
<ellipse cx="182.0" cy="396.0" rx="18" ry="5" fill="#cfcdc4"/>
<ellipse cx="487.6" cy="336.8" rx="18" ry="5" fill="#cfcdc4"/>
<ellipse cx="528.3" cy="378.7" rx="18" ry="5" fill="#cfcdc4"/>
<ellipse cx="413.0" cy="478.0" rx="18" ry="5" fill="#cfcdc4"/>
<ellipse cx="821.0" cy="340.8" rx="28" ry="5.5" fill="#cfcdc4"/>
<rect x="249.0" y="43.0" width="10" height="10" rx="2.2" fill="#a70f23"/>
<circle cx="281.0" cy="47.0" r="5.4" fill="#c9655d"/>
<circle cx="270.0" cy="57.0" r="5.4" fill="#c9655d"/>
<rect x="212.7" y="65.0" width="10" height="10" rx="2.2" fill="#6b7f1f"/>
<rect x="189.0" y="73.0" width="10" height="10" rx="2.2" fill="#6b7f1f"/>
<rect x="130.7" y="175.0" width="10" height="10" rx="2.2" fill="#a70f23"/>
<rect x="117.7" y="184.0" width="10" height="10" rx="2.2" fill="#a70f23"/>
<rect x="345.0" y="38.0" width="10" height="10" rx="2.2" fill="#a70f23"/>
<rect x="367.0" y="51.0" width="10" height="10" rx="2.2" fill="#a70f23"/>
<rect x="399.0" y="27.0" width="10" height="10" rx="2.2" fill="#a70f23"/>
<rect x="451.0" y="90.0" width="10" height="10" rx="2.2" fill="#a70f23"/>
<rect x="382.0" y="43.0" width="10" height="10" rx="2.2" fill="#6b7f1f"/>
<rect x="376.0" y="55.0" width="10" height="10" rx="2.2" fill="#6b7f1f"/>
<rect x="393.0" y="62.0" width="10" height="10" rx="2.2" fill="#6b7f1f"/>
<use href="#oil" x="307.0" y="150.0"/>
<use href="#oil" x="471.0" y="159.0"/>
<path d="M662.0 109.7L668.4 120.3L655.6 120.3Z" fill="#4b4b47" stroke="#4b4b47" stroke-width="0.8" stroke-linejoin="round"/>
<rect x="622.0" y="123.0" width="10" height="10" rx="2.2" fill="#a70f23"/>
<rect x="664.0" y="164.0" width="10" height="10" rx="2.2" fill="#6b7f1f"/>
<rect x="645.0" y="174.0" width="10" height="10" rx="2.2" fill="#6b7f1f"/>
<rect x="691.0" y="222.0" width="10" height="10" rx="2.2" fill="#a70f23"/>
<path d="M698.0 245.4L704.6 252.0L698.0 258.6L691.4 252.0Z" fill="#e9a818" stroke="#e9a818" stroke-width="0.8" stroke-linejoin="round"/>
<path d="M336.0 254.7L342.4 265.3L329.6 265.3Z" fill="#f07a1f" stroke="#f07a1f" stroke-width="0.8" stroke-linejoin="round"/>
<path d="M345.0 266.7L351.4 277.3L338.6 277.3Z" fill="#4b4b47" stroke="#4b4b47" stroke-width="0.8" stroke-linejoin="round"/>
<use href="#oil" x="465.5" y="272.0"/>
<use href="#war" x="543.9" y="262.7"/>
<use href="#war" x="573.2" y="285.8"/>
<rect x="246.0" y="296.0" width="10" height="10" rx="2.2" fill="#a9c428"/>
<path d="M252.0 305.4L258.6 312.0L252.0 318.6L245.4 312.0Z" fill="#e9a818" stroke="#e9a818" stroke-width="0.8" stroke-linejoin="round"/>
<path d="M122.0 309.4L128.6 316.0L122.0 322.6L115.4 316.0Z" fill="#e9a818" stroke="#e9a818" stroke-width="0.8" stroke-linejoin="round"/>
<path d="M121.0 329.4L127.6 336.0L121.0 342.6L114.4 336.0Z" fill="#e9a818" stroke="#e9a818" stroke-width="0.8" stroke-linejoin="round"/>
<path d="M99.0 376.4L105.6 383.0L99.0 389.6L92.4 383.0Z" fill="#e9a818" stroke="#e9a818" stroke-width="0.8" stroke-linejoin="round"/>
<path d="M120.0 381.4L126.6 388.0L120.0 394.6L113.4 388.0Z" fill="#e9a818" stroke="#e9a818" stroke-width="0.8" stroke-linejoin="round"/>
<path d="M133.0 399.4L139.6 406.0L133.0 412.6L126.4 406.0Z" fill="#e9a818" stroke="#e9a818" stroke-width="0.8" stroke-linejoin="round"/>
<path d="M221.0 399.4L227.6 406.0L221.0 412.6L214.4 406.0Z" fill="#e9a818" stroke="#e9a818" stroke-width="0.8" stroke-linejoin="round"/>
<circle cx="94.0" cy="336.0" r="5.4" fill="#8dcaee"/>
<circle cx="229.0" cy="391.0" r="5.4" fill="#8dcaee"/>
<rect x="87.0" y="363.0" width="10" height="10" rx="2.2" fill="#a70f23"/>
<rect x="126.0" y="380.0" width="10" height="10" rx="2.2" fill="#a70f23"/>
<rect x="240.0" y="387.0" width="10" height="10" rx="2.2" fill="#a9c428"/>
<use href="#gem" x="138.0" y="365.0"/>
<use href="#gem" x="110.0" y="374.0"/>
<use href="#gem" x="109.0" y="392.0"/>
<use href="#gem" x="142.0" y="397.0"/>
<use href="#gem" x="238.0" y="409.0"/>
<circle cx="371.0" cy="374.0" r="5.15" fill="#fff" stroke="#333" stroke-width="0.85"/>
<circle cx="403.0" cy="395.0" r="5.15" fill="#fff" stroke="#333" stroke-width="0.85"/>
<rect x="322.0" y="378.0" width="10" height="10" rx="2.2" fill="#a70f23"/>
<path d="M345.0 390.3L353.0 403.7L337.0 403.7Z" fill="#4b4b47" stroke="#4b4b47" stroke-width="0.8" stroke-linejoin="round"/>
<path d="M352.0 379.3L360.0 392.7L344.0 392.7Z" fill="#4b4b47" stroke="#4b4b47" stroke-width="0.8" stroke-linejoin="round"/>
<path d="M453.0 409.4L459.6 416.0L453.0 422.6L446.4 416.0Z" fill="#e9a818" stroke="#e9a818" stroke-width="0.8" stroke-linejoin="round"/>
<path d="M432.0 427.4L438.6 434.0L432.0 440.6L425.4 434.0Z" fill="#e9a818" stroke="#e9a818" stroke-width="0.8" stroke-linejoin="round"/>
<use href="#gem" x="457.0" y="425.0"/>
<use href="#gem" x="535.0" y="413.0"/>
<use href="#oil" x="389.0" y="465.0"/>
<use href="#oil" x="321.0" y="512.0"/>
<use href="#oil" x="432.0" y="565.0"/>
<use href="#oil" x="407.0" y="621.0"/>
<path d="M417.0 494.7L423.4 505.3L410.6 505.3Z" fill="#f07a1f" stroke="#f07a1f" stroke-width="0.8" stroke-linejoin="round"/>
<rect x="421.0" y="493.0" width="10" height="10" rx="2.2" fill="#a9c428"/>
<rect x="401.0" y="515.0" width="10" height="10" rx="2.2" fill="#8a7344"/>
<rect x="431.0" y="524.0" width="10" height="10" rx="2.2" fill="#8a7344"/>
<circle cx="418.0" cy="549.0" r="5.4" fill="#c9655d"/>
<path d="M588.0 498.4L594.6 505.0L588.0 511.6L581.4 505.0Z" fill="#e9a818" stroke="#e9a818" stroke-width="0.8" stroke-linejoin="round"/>
<circle cx="591.0" cy="522.0" r="5.15" fill="#fff" stroke="#333" stroke-width="0.85"/>
<circle cx="593.0" cy="569.0" r="5.15" fill="#fff" stroke="#333" stroke-width="0.85"/>
<use href="#gem" x="452.0" y="578.0"/>
<use href="#gem" x="465.0" y="592.0"/>
<use href="#gem" x="459.5" y="607.6"/>
<use href="#gem" x="511.0" y="588.0"/>
<use href="#gem" x="502.0" y="600.0"/>
<use href="#gem" x="517.0" y="565.0"/>
<use href="#gem" x="541.0" y="558.0"/>
<path d="M543.0 572.7L549.4 583.3L536.6 583.3Z" fill="#1a6fc1" stroke="#1a6fc1" stroke-width="0.8" stroke-linejoin="round"/>
<path d="M578.0 581.7L584.4 592.3L571.6 592.3Z" fill="#4b4b47" stroke="#4b4b47" stroke-width="0.8" stroke-linejoin="round"/>
<rect x="542.6" y="599.0" width="10" height="10" rx="2.2" fill="#2e93cf"/>
<rect x="552.0" y="590.0" width="10" height="10" rx="2.2" fill="#8a7344"/>
<rect x="556.0" y="602.0" width="10" height="10" rx="2.2" fill="#8a7344"/>
<rect x="674.0" y="343.0" width="10" height="10" rx="2.2" fill="#a4a39b"/>
<use href="#oil" x="659.0" y="387.0"/>
<path d="M746.0 407.4L752.6 414.0L746.0 420.6L739.4 414.0Z" fill="#e9a818" stroke="#e9a818" stroke-width="0.8" stroke-linejoin="round"/>
<use href="#war" x="855.0" y="438.0"/>
<path d="M616.0 443.4L622.6 450.0L616.0 456.6L609.4 450.0Z" fill="#e9a818" stroke="#e9a818" stroke-width="0.8" stroke-linejoin="round"/>
<path d="M618.0 457.4L624.6 464.0L618.0 470.6L611.4 464.0Z" fill="#e9a818" stroke="#e9a818" stroke-width="0.8" stroke-linejoin="round"/>
<path d="M626.0 469.4L632.6 476.0L626.0 482.6L619.4 476.0Z" fill="#e9a818" stroke="#e9a818" stroke-width="0.8" stroke-linejoin="round"/>
<use href="#war" x="634.0" y="463.0"/>
<path d="M623.0 486.7L629.4 497.3L616.6 497.3Z" fill="#1a6fc1" stroke="#1a6fc1" stroke-width="0.8" stroke-linejoin="round"/>
<circle cx="603.0" cy="506.0" r="5.15" fill="#fff" stroke="#333" stroke-width="0.85"/>
<path d="M673.0 521.4L679.6 528.0L673.0 534.6L666.4 528.0Z" fill="#e9a818" stroke="#e9a818" stroke-width="0.8" stroke-linejoin="round"/>
<use href="#gem" x="684.0" y="534.0"/>
<rect x="562.0" y="613.0" width="10" height="10" rx="2.2" fill="#8a7344"/>
<rect x="583.0" y="609.0" width="10" height="10" rx="2.2" fill="#8a7344"/>
<rect x="589.0" y="616.0" width="10" height="10" rx="2.2" fill="#8a7344"/>
<rect x="573.0" y="623.0" width="10" height="10" rx="2.2" fill="#2e93cf"/>
<rect x="562.0" y="633.0" width="10" height="10" rx="2.2" fill="#8a7344"/>
<path d="M588.0 637.4L594.6 644.0L588.0 650.6L581.4 644.0Z" fill="#e9a818" stroke="#e9a818" stroke-width="0.8" stroke-linejoin="round"/>
<rect x="591.0" y="645.0" width="10" height="10" rx="2.2" fill="#8a7344"/>
<rect x="611.0" y="620.0" width="10" height="10" rx="2.2" fill="#a9c428"/>
<rect x="607.0" y="635.0" width="10" height="10" rx="2.2" fill="#8a7344"/>
<path d="M628.0 635.4L634.6 642.0L628.0 648.6L621.4 642.0Z" fill="#e9a818" stroke="#e9a818" stroke-width="0.8" stroke-linejoin="round"/>
<rect x="601.0" y="657.0" width="10" height="10" rx="2.2" fill="#2e93cf"/>
<rect x="609.0" y="656.0" width="10" height="10" rx="2.2" fill="#8a7344"/>
<rect x="618.0" y="653.0" width="10" height="10" rx="2.2" fill="#a9c428"/>
<circle cx="611.0" cy="675.0" r="5.4" fill="#c9655d"/>
<rect x="621.7" y="686.0" width="10" height="10" rx="2.2" fill="#8a7344"/>
<rect x="608.9" y="690.8" width="10" height="10" rx="2.2" fill="#8a7344"/>
<path d="M585.3 692.5L591.7 703.1L578.9 703.1Z" fill="#4b4b47" stroke="#4b4b47" stroke-width="0.8" stroke-linejoin="round"/>
<path d="M601.3 695.8L607.7 706.4L594.9 706.4Z" fill="#4b4b47" stroke="#4b4b47" stroke-width="0.8" stroke-linejoin="round"/>
<path d="M574.4 709.7L580.8 720.3L568.0 720.3Z" fill="#4b4b47" stroke="#4b4b47" stroke-width="0.8" stroke-linejoin="round"/>
<path d="M617.0 703.2L623.6 709.8L617.0 716.4L610.4 709.8Z" fill="#e9a818" stroke="#e9a818" stroke-width="0.8" stroke-linejoin="round"/>
<rect x="599.0" y="710.0" width="10" height="10" rx="2.2" fill="#2e93cf"/>
<rect x="622.0" y="710.6" width="10" height="10" rx="2.2" fill="#a4a39b"/>
<path d="M650.2 701.0L656.8 707.6L650.2 714.2L643.6 707.6Z" fill="#e9a818" stroke="#e9a818" stroke-width="0.8" stroke-linejoin="round"/>
<path d="M666.0 706.4L672.6 713.0L666.0 719.6L659.4 713.0Z" fill="#e9a818" stroke="#e9a818" stroke-width="0.8" stroke-linejoin="round"/>
<rect x="667.0" y="699.0" width="10" height="10" rx="2.2" fill="#8a7344"/>
<path d="M671.0 674.7L677.4 685.3L664.6 685.3Z" fill="#4b4b47" stroke="#4b4b47" stroke-width="0.8" stroke-linejoin="round"/>
<path d="M573.9 737.3L580.5 743.9L573.9 750.5L567.3 743.9Z" fill="#e9a818" stroke="#e9a818" stroke-width="0.8" stroke-linejoin="round"/>
<circle cx="592.6" cy="751.3" r="5.4" fill="#17809b"/>
<rect x="602.8" y="749.0" width="10" height="10" rx="2.2" fill="#2e93cf"/>
<rect x="609.2" y="743.9" width="10" height="10" rx="2.2" fill="#a4a39b"/>
<rect x="623.0" y="740.9" width="10" height="10" rx="2.2" fill="#a4a39b"/>
<path d="M644.7 741.0L651.3 747.6L644.7 754.2L638.1 747.6Z" fill="#e9a818" stroke="#e9a818" stroke-width="0.8" stroke-linejoin="round"/>
<use href="#gem" x="568.9" y="757.2"/>
<use href="#gem" x="625.0" y="758.3"/>
<rect x="592.6" y="757.0" width="10" height="10" rx="2.2" fill="#8a7344"/>
<path d="M583.3 759.7L589.7 770.3L576.9 770.3Z" fill="#4b4b47" stroke="#4b4b47" stroke-width="0.8" stroke-linejoin="round"/>
<rect x="611.1" y="764.4" width="10" height="10" rx="2.2" fill="#8a7344"/>
<path d="M627.8 766.6L634.2 777.2L621.4 777.2Z" fill="#4b4b47" stroke="#4b4b47" stroke-width="0.8" stroke-linejoin="round"/>
<use href="#gem" x="604.7" y="772.8"/>
<path d="M597.2 773.0L603.6 783.6L590.8 783.6Z" fill="#f07a1f" stroke="#f07a1f" stroke-width="0.8" stroke-linejoin="round"/>
<rect x="580.9" y="780.6" width="10" height="10" rx="2.2" fill="#a70f23"/>
<path d="M599.4 781.4L605.8 792.0L593.0 792.0Z" fill="#4b4b47" stroke="#4b4b47" stroke-width="0.8" stroke-linejoin="round"/>
<path d="M615.6 781.4L622.0 792.0L609.2 792.0Z" fill="#4b4b47" stroke="#4b4b47" stroke-width="0.8" stroke-linejoin="round"/>
<rect x="629.1" y="781.7" width="10" height="10" rx="2.2" fill="#8a7344"/>
<use href="#gem" x="563.9" y="782.2"/>
<rect x="570.0" y="792.0" width="10" height="10" rx="2.2" fill="#a4a39b"/>
<path d="M591.0 790.4L597.6 797.0L591.0 803.6L584.4 797.0Z" fill="#dc8f86" stroke="#dc8f86" stroke-width="0.8" stroke-linejoin="round"/>
<rect x="605.0" y="795.0" width="10" height="10" rx="2.2" fill="#a4a39b"/>
<path d="M620.0 802.4L626.6 809.0L620.0 815.6L613.4 809.0Z" fill="#dc8f86" stroke="#dc8f86" stroke-width="0.8" stroke-linejoin="round"/>
<path d="M630.0 795.4L636.6 802.0L630.0 808.6L623.4 802.0Z" fill="#e9a818" stroke="#e9a818" stroke-width="0.8" stroke-linejoin="round"/>
<path d="M567.0 808.4L573.6 815.0L567.0 821.6L560.4 815.0Z" fill="#e9a818" stroke="#e9a818" stroke-width="0.8" stroke-linejoin="round"/>
<path d="M595.0 815.7L601.4 826.3L588.6 826.3Z" fill="#f07a1f" stroke="#f07a1f" stroke-width="0.8" stroke-linejoin="round"/>
<path d="M612.0 816.7L618.4 827.3L605.6 827.3Z" fill="#4b4b47" stroke="#4b4b47" stroke-width="0.8" stroke-linejoin="round"/>
<use href="#gem" x="630.0" y="815.0"/>
<path d="M592.0 827.7L598.4 838.3L585.6 838.3Z" fill="#4b4b47" stroke="#4b4b47" stroke-width="0.8" stroke-linejoin="round"/>
<path d="M618.0 825.7L624.4 836.3L611.6 836.3Z" fill="#4b4b47" stroke="#4b4b47" stroke-width="0.8" stroke-linejoin="round"/>
<path d="M633.0 829.7L639.4 840.3L626.6 840.3Z" fill="#4b4b47" stroke="#4b4b47" stroke-width="0.8" stroke-linejoin="round"/>
<path d="M622.0 842.7L628.4 853.3L615.6 853.3Z" fill="#4b4b47" stroke="#4b4b47" stroke-width="0.8" stroke-linejoin="round"/>
<use href="#gem" x="593.0" y="853.0"/>
<use href="#gem" x="560.0" y="852.0"/>
<rect x="551.0" y="792.0" width="10" height="10" rx="2.2" fill="#a70f23"/>
<rect x="522.0" y="822.0" width="10" height="10" rx="2.2" fill="#a70f23"/>
<rect x="533.0" y="815.0" width="10" height="10" rx="2.2" fill="#a9c428"/>
<rect x="532.0" y="842.0" width="10" height="10" rx="2.2" fill="#a9c428"/>
<rect x="442.0" y="673.0" width="10" height="10" rx="2.2" fill="#a70f23"/>
<rect x="468.0" y="711.0" width="10" height="10" rx="2.2" fill="#8a7344"/>
<circle cx="495.0" cy="715.0" r="5.4" fill="#c9655d"/>
<rect x="454.0" y="722.0" width="10" height="10" rx="2.2" fill="#a70f23"/>
<rect x="476.0" y="722.0" width="10" height="10" rx="2.2" fill="#8a7344"/>
<rect x="462.0" y="745.0" width="10" height="10" rx="2.2" fill="#8a7344"/>
<path d="M453.0 761.4L459.6 768.0L453.0 774.6L446.4 768.0Z" fill="#e9a818" stroke="#e9a818" stroke-width="0.8" stroke-linejoin="round"/>
<path d="M441.0 767.7L447.4 778.3L434.6 778.3Z" fill="#f07a1f" stroke="#f07a1f" stroke-width="0.8" stroke-linejoin="round"/>
<use href="#gem" x="442.0" y="820.0"/>
<use href="#gem" x="448.0" y="830.0"/>
<use href="#gem" x="467.0" y="845.0"/>
<use href="#gem" x="473.0" y="858.0"/>
<rect x="494.0" y="838.0" width="10" height="10" rx="2.2" fill="#8a7344"/>
<rect x="478.0" y="845.0" width="10" height="10" rx="2.2" fill="#8a7344"/>
<circle cx="497.0" cy="856.0" r="5.4" fill="#c9655d"/>
<rect x="852.0" y="678.0" width="10" height="10" rx="2.2" fill="#a4a39b"/>
<rect x="829.0" y="711.0" width="10" height="10" rx="2.2" fill="#a4a39b"/>
<use href="#solb" x="45.7" y="232.0"/>
<use href="#solb" x="168.6" y="356.6"/>
<use href="#solb" x="475.2" y="296.8"/>
<use href="#solb" x="515.7" y="339.0"/>
<use href="#solb" x="398.7" y="440.0"/>
<use href="#solr" x="794.9" y="302.3"/>
<use href="#solb" x="818.9" y="302.3"/>
<use href="#feu" x="409.0" y="43.0"/>
<use href="#fcn" x="301.0" y="161.0"/>
<use href="#fus" x="306.0" y="168.0"/>
<use href="#feu" x="311.0" y="176.0"/>
<use href="#fcn" x="499.0" y="164.0"/>
<use href="#feu" x="505.0" y="172.0"/>
<use href="#fcn" x="585.0" y="150.0"/>
<use href="#fus" x="592.0" y="156.0"/>
<use href="#feu" x="596.0" y="165.0"/>
<use href="#fcn" x="484.0" y="241.0"/>
<use href="#fus" x="489.0" y="247.0"/>
<use href="#feu" x="494.0" y="255.0"/>
<use href="#fcn" x="620.0" y="278.0"/>
<use href="#fin" x="5.0" y="252.0"/>
<use href="#feu" x="11.0" y="260.0"/>
<use href="#fcn" x="57.0" y="367.0"/>
<use href="#feu" x="63.0" y="374.0"/>
<use href="#fus" x="96.0" y="402.0"/>
<use href="#fcn" x="358.0" y="327.0"/>
<use href="#fin" x="365.0" y="335.0"/>
<use href="#fbr" x="372.0" y="342.0"/>
<use href="#fus" x="379.5" y="352.5"/>
<use href="#feu" x="383.0" y="360.0"/>
<use href="#fcn" x="368.0" y="474.0"/>
<use href="#fus" x="374.0" y="480.0"/>
<use href="#feu" x="380.0" y="486.0"/>
<use href="#fcn" x="443.0" y="470.0"/>
<use href="#fcn" x="511.0" y="456.0"/>
<use href="#fbr" x="517.0" y="462.0"/>
<use href="#fus" x="523.0" y="469.0"/>
<use href="#feu" x="528.0" y="476.0"/>
<use href="#fin" x="764.0" y="368.0"/>
<use href="#fus" x="770.0" y="375.0"/>
<use href="#feu" x="774.0" y="383.0"/>
<use href="#fus" x="656.0" y="454.0"/>
<use href="#fus" x="606.0" y="503.0"/>
<use href="#fcn" x="713.0" y="456.0"/>
<use href="#fus" x="718.0" y="463.0"/>
<use href="#fin" x="724.0" y="472.0"/>
<use href="#fcn" x="682.0" y="551.0"/>
<use href="#fus" x="688.0" y="558.0"/>
<use href="#fcn" x="472.0" y="627.0"/>
<use href="#fbr" x="478.0" y="635.0"/>
<use href="#fus" x="484.0" y="642.0"/>
<use href="#feu" x="490.0" y="650.0"/>
<use href="#fcn" x="580.5" y="722.2"/>
<use href="#fbr" x="720.0" y="644.0"/>
<use href="#fin" x="728.0" y="652.0"/>
<use href="#fin" x="804.0" y="732.0"/>
<use href="#feu" x="810.0" y="740.0"/>
<use href="#fcn" x="513.0" y="857.0"/>
<use href="#fin" x="519.0" y="866.0"/>
<use href="#fbr" x="527.0" y="874.0"/>
<use href="#fus" x="533.0" y="882.0"/>
<use href="#feu" x="538.0" y="890.0"/>
<use href="#fcn" x="1.0" y="874.0"/>
<use href="#feu" x="101.0" y="874.0"/>
<use href="#fus" x="186.0" y="873.5"/>
<use href="#fin" x="1.0" y="900.0"/>
<use href="#fbr" x="100.0" y="900.0"/>
<g opacity="0.999">
<text class="c" x="128.4" y="106.7" textLength="56.5" lengthAdjust="spacingAndGlyphs">MAROKKO</text>
<text class="ci" x="72.7" y="161.0" textLength="30.3" lengthAdjust="spacingAndGlyphs">West-</text>
<text class="ci" x="72.7" y="177.7" textLength="39.0" lengthAdjust="spacingAndGlyphs">Sahara</text>
<text class="c" x="96.0" y="240.3" textLength="79.0" lengthAdjust="spacingAndGlyphs">MAURETANIEN</text>
<text class="c" x="237.7" y="255.0" textLength="26.6" lengthAdjust="spacingAndGlyphs">MALI</text>
<text class="c" x="37.0" y="292.0" textLength="52.0" lengthAdjust="spacingAndGlyphs">SENEGAL</text>
<text class="c" x="5.0" y="310.0" textLength="44.0" lengthAdjust="spacingAndGlyphs">GAMBIA</text>
<text class="c" x="16.0" y="332.7" textLength="43.0" lengthAdjust="spacingAndGlyphs">GUINEA</text>
<text class="c" x="17.0" y="349.3" textLength="41.0" lengthAdjust="spacingAndGlyphs">BISSAU</text>
<text class="c" x="111.0" y="356.0" textLength="42.0" lengthAdjust="spacingAndGlyphs">GUINEA</text>
<text class="c" x="11.0" y="379.0" textLength="40.0" lengthAdjust="spacingAndGlyphs">SIERRA</text>
<text class="c" x="11.0" y="396.0" textLength="36.0" lengthAdjust="spacingAndGlyphs">LEONE</text>
<text class="c" x="92.0" y="435.0" textLength="41.0" lengthAdjust="spacingAndGlyphs">LIBERIA</text>
<text class="c" x="166.0" y="419.0" textLength="36.0" lengthAdjust="spacingAndGlyphs">ELFEN-</text>
<text class="c" x="169.0" y="436.0" textLength="30.0" lengthAdjust="spacingAndGlyphs">BEIN-</text>
<text class="c" x="167.0" y="453.0" textLength="35.0" lengthAdjust="spacingAndGlyphs">KÜSTE</text>
<text class="c" x="191.0" y="321.7" textLength="50.0" lengthAdjust="spacingAndGlyphs">BURKINA</text>
<text class="c" x="202.0" y="338.0" textLength="28.0" lengthAdjust="spacingAndGlyphs">FASO</text>
<text class="c" x="216.0" y="364.0" textLength="39.0" lengthAdjust="spacingAndGlyphs">GHANA</text>
<text class="c" x="269.7" y="355.0" textLength="34.5" lengthAdjust="spacingAndGlyphs">BENIN</text>
<text class="c" x="250.0" y="381.0" textLength="30.0" lengthAdjust="spacingAndGlyphs">TOGO</text>
<text class="c" x="316.0" y="364.0" textLength="45.0" lengthAdjust="spacingAndGlyphs">NIGERIA</text>
<text class="c" x="263.3" y="467.0" textLength="114.5" lengthAdjust="spacingAndGlyphs">ÄQUATORIAL GUINEA</text>
<text class="c" x="373.0" y="424.0" textLength="55.0" lengthAdjust="spacingAndGlyphs">KAMERUN</text>
<text class="c" x="349.0" y="517.0" textLength="40.0" lengthAdjust="spacingAndGlyphs">GABUN</text>
<text class="c" x="438.0" y="504.0" textLength="41.0" lengthAdjust="spacingAndGlyphs">KONGO</text>
<text class="c" x="511.0" y="513.0" textLength="55.0" lengthAdjust="spacingAndGlyphs">DEM. REP.</text>
<text class="c" x="517.0" y="529.0" textLength="41.0" lengthAdjust="spacingAndGlyphs">KONGO</text>
<text class="c" x="466.0" y="401.0" textLength="101.0" lengthAdjust="spacingAndGlyphs">ZENTRALAFRIKAN.</text>
<text class="c" x="466.0" y="417.0" textLength="56.0" lengthAdjust="spacingAndGlyphs">REPUBLIK</text>
<text class="c" x="366.0" y="93.0" textLength="57.0" lengthAdjust="spacingAndGlyphs">TUNESIEN</text>
<text class="c" x="296.5" y="210.0" textLength="56.0" lengthAdjust="spacingAndGlyphs">ALGERIEN</text>
<text class="c" x="499.0" y="206.0" textLength="38.0" lengthAdjust="spacingAndGlyphs">LIBYEN</text>
<text class="c" x="585.0" y="201.5" textLength="49.0" lengthAdjust="spacingAndGlyphs">ÄGYPTEN</text>
<text class="c" x="373.0" y="268.0" textLength="35.0" lengthAdjust="spacingAndGlyphs">NIGER</text>
<text class="c" x="491.0" y="292.0" textLength="45.0" lengthAdjust="spacingAndGlyphs">TSCHAD</text>
<text class="c" x="614.0" y="312.5" textLength="40.0" lengthAdjust="spacingAndGlyphs">SUDAN</text>
<text class="c" x="727.0" y="298.7" textLength="46.0" lengthAdjust="spacingAndGlyphs">ERITREA</text>
<text class="c" x="730.0" y="353.0" textLength="60.0" lengthAdjust="spacingAndGlyphs">DSCHIBUTI</text>
<text class="c" x="835.0" y="379.0" textLength="50.0" lengthAdjust="spacingAndGlyphs">SOMALIA</text>
<text class="c" x="763.0" y="416.7" textLength="58.0" lengthAdjust="spacingAndGlyphs">ÄTHIOPIEN</text>
<text class="c" x="645.0" y="489.0" textLength="49.0" lengthAdjust="spacingAndGlyphs">UGANDA</text>
<text class="c" x="639.0" y="516.7" textLength="46.0" lengthAdjust="spacingAndGlyphs">RUANDA</text>
<text class="c" x="607.0" y="540.7" textLength="54.0" lengthAdjust="spacingAndGlyphs">BURUNDI</text>
<text class="c" x="721.0" y="506.7" textLength="33.0" lengthAdjust="spacingAndGlyphs">KENIA</text>
<text class="c" x="676.0" y="592.0" textLength="55.0" lengthAdjust="spacingAndGlyphs">TANSANIA</text>
<text class="c" x="424.0" y="664.0" textLength="46.0" lengthAdjust="spacingAndGlyphs">ANGOLA</text>
<text class="c" x="543.0" y="680.7" textLength="44.0" lengthAdjust="spacingAndGlyphs">SAMBIA</text>
<text class="c" x="657.0" y="654.7" textLength="44.0" lengthAdjust="spacingAndGlyphs">MALAWI</text>
<text class="c" x="711.0" y="685.7" textLength="63.0" lengthAdjust="spacingAndGlyphs">MOSAMBIK</text>
<text class="c" x="613.0" y="736.0" textLength="62.0" lengthAdjust="spacingAndGlyphs">SIMBABWE</text>
<text class="c" x="503.0" y="773.0" textLength="63.0" lengthAdjust="spacingAndGlyphs">BOTSWANA</text>
<text class="c" x="443.0" y="799.0" textLength="49.0" lengthAdjust="spacingAndGlyphs">NAMIBIA</text>
<text class="c" x="643.0" y="825.7" textLength="66.0" lengthAdjust="spacingAndGlyphs">SWASILAND</text>
<text class="c" x="581.0" y="879.6" textLength="52.0" lengthAdjust="spacingAndGlyphs">LESOTHO</text>
<text class="c" x="455.0" y="896.7" textLength="63.0" lengthAdjust="spacingAndGlyphs">SÜDAFRIKA</text>
<text class="c" x="780.0" y="775.7" textLength="78.0" lengthAdjust="spacingAndGlyphs">MADAGASKAR</text>
<text class="oc" x="802.0" y="571.7" textLength="52.0" lengthAdjust="spacingAndGlyphs">Indischer</text>
<text class="oc" x="811.0" y="589.0" textLength="34.0" lengthAdjust="spacingAndGlyphs">Ozean</text>
<text class="oc" x="319.0" y="776.7" textLength="69.0" lengthAdjust="spacingAndGlyphs">Atlantischer</text>
<text class="oc" x="337.0" y="793.3" textLength="35.0" lengthAdjust="spacingAndGlyphs">Ozean</text>
<text class="sc" x="38.0" y="27.5" textLength="39.0" lengthAdjust="spacingAndGlyphs">1000 km</text>
<text class="t" x="648.5" y="33.4" textLength="250.1" lengthAdjust="spacingAndGlyphs">ANSTURM AUF AFRIKAS</text>
<text class="t" x="754.5" y="62.8" textLength="144.1" lengthAdjust="spacingAndGlyphs">RESSOURCEN</text>
<text class="p" x="778.0" y="90.7" textLength="121.0" lengthAdjust="spacingAndGlyphs">Die USA und neue</text>
<text class="p" x="751.0" y="111.7" textLength="148.0" lengthAdjust="spacingAndGlyphs">Wirtschaftsmächte wie</text>
<text class="p" x="783.0" y="132.3" textLength="116.0" lengthAdjust="spacingAndGlyphs">China, Indien und</text>
<text class="p" x="741.0" y="153.3" textLength="158.0" lengthAdjust="spacingAndGlyphs">Brasilien entdecken den</text>
<text class="p" x="744.0" y="174.0" textLength="155.0" lengthAdjust="spacingAndGlyphs">afrikanischen Kontinent</text>
<text class="p" x="848.0" y="195.0" textLength="51.0" lengthAdjust="spacingAndGlyphs">für sich.</text>
<text class="h" x="0.5" y="527.7" textLength="101.5" lengthAdjust="spacingAndGlyphs">Bodenschätze</text>
<text class="lg" x="33.0" y="554.0" textLength="71.0" lengthAdjust="spacingAndGlyphs">Diamanten</text>
<text class="lg" x="33.0" y="577.5" textLength="33.0" lengthAdjust="spacingAndGlyphs">Gold</text>
<text class="lg" x="33.0" y="601.0" textLength="37.0" lengthAdjust="spacingAndGlyphs">Platin</text>
<text class="lg" x="33.0" y="624.6" textLength="43.0" lengthAdjust="spacingAndGlyphs">Kupfer</text>
<text class="lg" x="33.0" y="648.3" textLength="42.0" lengthAdjust="spacingAndGlyphs">Chrom</text>
<text class="lg" x="33.0" y="672.2" textLength="35.0" lengthAdjust="spacingAndGlyphs">Eisen</text>
<text class="lg" x="33.0" y="696.2" textLength="75.5" lengthAdjust="spacingAndGlyphs">Magnesium</text>
<text class="lg" x="33.0" y="720.0" textLength="43.0" lengthAdjust="spacingAndGlyphs">Kobalt</text>
<text class="lg" x="33.0" y="748.3" textLength="69.0" lengthAdjust="spacingAndGlyphs">Erdöl/-gas</text>
<text class="lg" x="33.0" y="775.0" textLength="40.0" lengthAdjust="spacingAndGlyphs">Kriege</text>
<text class="lg" x="33.0" y="805.7" textLength="101.0" lengthAdjust="spacingAndGlyphs">Amerikanischer</text>
<text class="lg" x="33.0" y="824.7" textLength="70.0" lengthAdjust="spacingAndGlyphs">Stützpunkt</text>
<text class="lg" x="190.5" y="554.0" textLength="26.1" lengthAdjust="spacingAndGlyphs">Zinn</text>
<text class="lg" x="190.5" y="577.5" textLength="38.8" lengthAdjust="spacingAndGlyphs">Nickel</text>
<text class="lg" x="190.5" y="601.0" textLength="58.9" lengthAdjust="spacingAndGlyphs">Blei, Zink</text>
<text class="lg" x="190.5" y="624.6" textLength="40.5" lengthAdjust="spacingAndGlyphs">Bauxit</text>
<text class="lg" x="190.5" y="648.3" textLength="29.5" lengthAdjust="spacingAndGlyphs">Uran</text>
<text class="lg" x="190.5" y="672.2" textLength="36.5" lengthAdjust="spacingAndGlyphs">Kohle</text>
<text class="lg" x="190.5" y="696.2" textLength="41.5" lengthAdjust="spacingAndGlyphs">Coltan</text>
<text class="lg" x="190.5" y="720.0" textLength="69.2" lengthAdjust="spacingAndGlyphs">Phosphate</text>
<text class="lg" x="190.5" y="748.3" textLength="77.0" lengthAdjust="spacingAndGlyphs">Ölförderung</text>
<text class="lg" x="190.5" y="805.7" textLength="83.5" lengthAdjust="spacingAndGlyphs">Französische</text>
<text class="lg" x="190.5" y="824.7" textLength="77.5" lengthAdjust="spacingAndGlyphs">Stützpunkte</text>
<text class="h" x="0.5" y="862.3" textLength="349.0" lengthAdjust="spacingAndGlyphs">Wichtiger Handelspartner bzw. politischer Einfluss</text>
<text class="lg" x="38.0" y="888.3" textLength="37.0" lengthAdjust="spacingAndGlyphs">China</text>
<text class="lg" x="139.0" y="888.3" textLength="17.0" lengthAdjust="spacingAndGlyphs">EU</text>
<text class="lg" x="224.0" y="888.3" textLength="26.5" lengthAdjust="spacingAndGlyphs">USA</text>
<text class="lg" x="38.0" y="915.0" textLength="40.5" lengthAdjust="spacingAndGlyphs">Indien</text>
<text class="lg" x="139.0" y="915.0" textLength="55.5" lengthAdjust="spacingAndGlyphs">Brasilien</text>
<text class="q" x="794.2" y="871.7" textLength="105.1" lengthAdjust="spacingAndGlyphs">Quelle: APA, „Le Monde</text>
<text class="q" x="748.0" y="885.1" textLength="151.3" lengthAdjust="spacingAndGlyphs">diplomatique“, EIA, Französisches</text>
<text class="q" x="787.0" y="898.6" textLength="112.3" lengthAdjust="spacingAndGlyphs">Verteidigungsministerium</text>
</g>
<rect x="0.5" y="33.4" width="116.5" height="4.3" fill="#fff" stroke="#111" stroke-width="0.9"/><rect x="56" y="33" width="61.3" height="5.1" fill="#111"/><use href="#gemL" x="11" y="548.7"/><path d="M11 564.2L19.5 572.7L11 581.2L2.5 572.7Z" fill="#e9a818" stroke="#e9a818" stroke-width="1" stroke-linejoin="round"/><path d="M11 587.7L19.5 596.2L11 604.7L2.5 596.2Z" fill="#dc8f86" stroke="#dc8f86" stroke-width="1" stroke-linejoin="round"/><rect x="4.0" y="612.7" width="14" height="14" rx="3.2" fill="#8a7344"/><rect x="4.0" y="636.3" width="14" height="14" rx="3.2" fill="#a4a39b"/><rect x="4.0" y="660.0" width="14" height="14" rx="3.2" fill="#a70f23"/><rect x="4.0" y="683.7" width="14" height="14" rx="3.2" fill="#a9c428"/><rect x="4.0" y="707.4" width="14" height="14" rx="3.2" fill="#2e93cf"/><use href="#warL" x="11" y="769.3"/><use href="#solr" x="-0.3" y="789.7"/><circle cx="169.4" cy="549.4" r="6.8" fill="#fff" stroke="#2a2a2a" stroke-width="1"/><circle cx="169.4" cy="572.6" r="7.2" fill="#c9655d"/><circle cx="169.4" cy="595.4" r="7.2" fill="#17809b"/><circle cx="169.4" cy="618.7" r="7.2" fill="#8dcaee"/><path d="M169.4 635.9L177.9 649.6L160.9 649.6Z" fill="#f07a1f" stroke="#f07a1f" stroke-width="0.8" stroke-linejoin="round"/><path d="M169.4 659.9L177.9 673.6L160.9 673.6Z" fill="#4b4b47" stroke="#4b4b47" stroke-width="0.8" stroke-linejoin="round"/><path d="M169.4 683.8L177.9 697.5L160.9 697.5Z" fill="#1a6fc1" stroke="#1a6fc1" stroke-width="0.8" stroke-linejoin="round"/><rect x="162.2" y="707.4" width="14.4" height="14.4" rx="3.2" fill="#6b7f1f"/><use href="#oilL" x="169.4" y="752.3"/><use href="#solb" x="155.7" y="789.7"/><text x="828.9" y="914.8" textLength="50.5" lengthAdjust="spacingAndGlyphs" style="font-family:'Liberation Serif',serif;font-weight:bold;font-size:13.5px;fill:#1b6db5;stroke:#1b6db5;stroke-width:0.3px">Die Presse</text><text class="q" x="881.5" y="914.8" textLength="17.8" lengthAdjust="spacingAndGlyphs">/HR</text>
</svg></body></html>
